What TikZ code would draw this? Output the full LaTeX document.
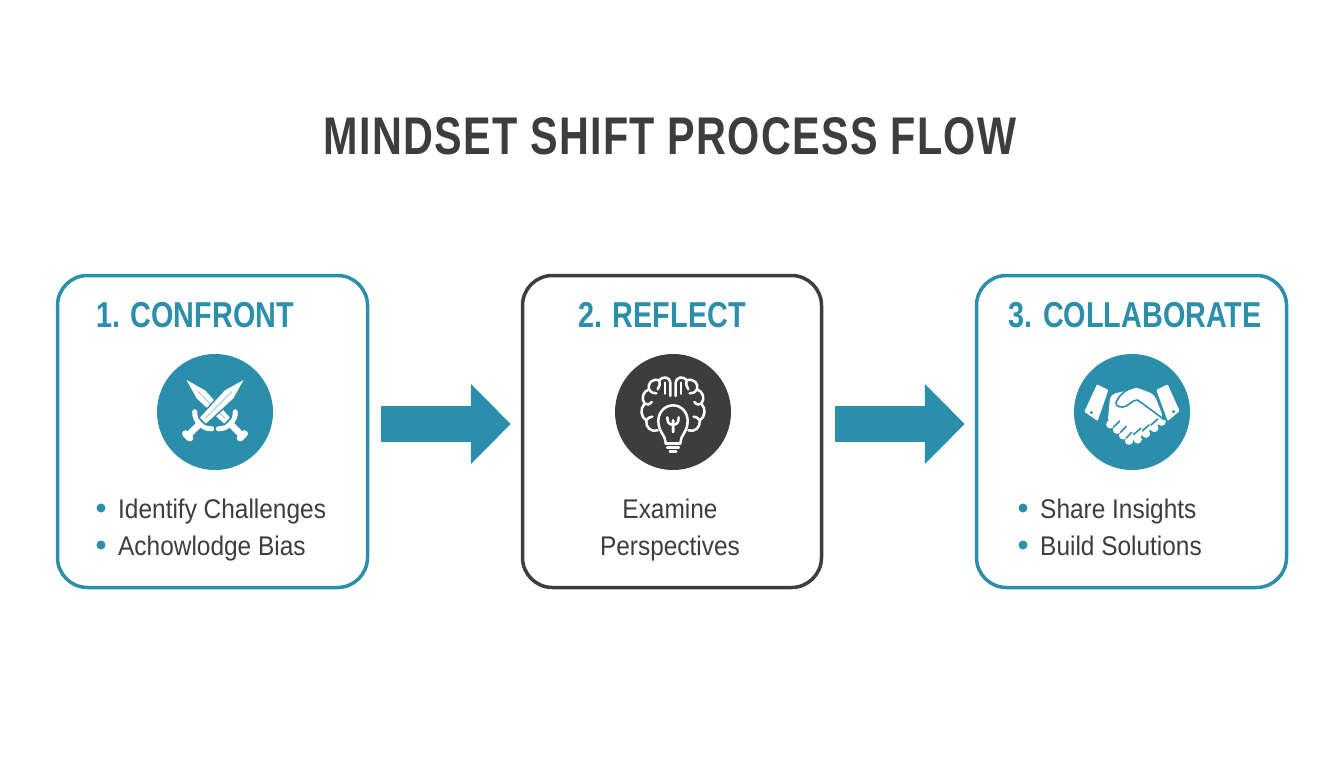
\documentclass[tikz,border=0pt]{standalone}
\usepackage{fontspec}
\usetikzlibrary{arrows.meta}
\newfontfamily\condfont[FakeStretch=0.8]{Liberation Sans}
\newfontfamily\titlefont[FakeStretch=0.78,LetterSpace=2.5]{Liberation Sans}
\newfontfamily\bodyfont[FakeStretch=0.905]{Liberation Sans}
\definecolor{tealmain}{HTML}{2B8EAA}
\definecolor{darkmain}{HTML}{3D3D3D}
\tikzset{
  stepbox/.style={draw=#1, line width=3.5pt, rounded corners=30pt, minimum height=312pt, fill=white},
  heading/.style={font=\condfont\bfseries\fontsize{36}{36}\selectfont, text=tealmain, anchor=base},
  bodytext/.style={font=\bodyfont\fontsize{27}{27}\selectfont, text=darkmain, anchor=base west, inner sep=0pt},
  midtext/.style={bodytext, anchor=base},
  dotmark/.style={circle, fill=tealmain, inner sep=0pt, minimum size=9pt},
  iconbg/.style={circle, fill=#1, inner sep=0pt, minimum size=116pt},
  blockarrow/.style={-{Triangle[length=40pt,width=78pt]}, line width=36pt, draw=tealmain, shorten <=12pt, shorten >=10pt},
  brainline/.style={draw=white, line width=2.5pt, line cap=round, line join=round},
  sword/.pic={
    \draw[white, line width=7pt, line cap=round] (-116,-9) -- (-116,9);
    \fill[white] (-114,-10) rectangle (-62,10);
    \draw[white, line width=5pt, line cap=round] (-50,-36) .. controls (-70,-20) and (-70,20) .. (-50,36);
    \filldraw[fill=white, draw=tealmain, line width=1.4pt, line join=miter] (-54,-15) -- (60,-20) -- (130,0) -- (60,20) -- (-54,15) -- cycle;
    \draw[tealmain!70, line width=.5pt] (-40,0) -- (72,0);
  }
}
\begin{document}
\begin{tikzpicture}[x=1pt, y=-1pt]
  \useasboundingbox (0,0) rectangle (1344,768);
  \node [font=\titlefont\bfseries\fontsize{53}{53}\selectfont, text=darkmain, anchor=base] (title) at (670,154) {MINDSET SHIFT PROCESS FLOW};
  % boxes
  \node [stepbox=tealmain, minimum width=310pt] (confront) at (212.5,431.5) {};
  \node [stepbox=darkmain, minimum width=299pt] (reflect) at (672,431.5) {};
  \node [stepbox=tealmain, minimum width=310pt] (collab) at (1131.5,431.5) {};
  \node [heading] (confronthead) at (195,327) {1. CONFRONT};
  \node [heading] (reflecthead) at (662,327) {2. REFLECT};
  \node [heading] (collabhead) at (1135,327) {3. COLLABORATE};
  % arrows
  \coordinate (arrowline) at (0,424);
  \draw[blockarrow] (confront.east |- arrowline) -- (reflect.west |- arrowline);
  \draw[blockarrow] (reflect.east |- arrowline) -- (collab.west |- arrowline);
  % icon circles
  \node [iconbg=tealmain] (swordicon) at (215,412) {};
  \node [iconbg=darkmain] (brainicon) at (673,412) {};
  \node [iconbg=tealmain] (handicon) at (1132,412) {};
  % swords
  \pic [rotate=135, scale=1/3] (swordone) at (215,408.5) {sword};
  \pic [rotate=45, scale=1/3] (swordtwo) at (215,408.5) {sword};
  % brain and bulb
  \begin{scope}[shift={(673,412)}, scale=1/3]
    \foreach \s in {1,-1} {
      \begin{scope}[xscale=\s]
        \draw[brainline] (8,-48) -- (8,-88) .. controls (8,-104) and (30,-110) .. (42,-95) .. controls (62,-102) and (78,-85) .. (72,-68) .. controls (90,-62) and (97,-40) .. (85,-25) .. controls (100,-10) and (97,15) .. (80,25) .. controls (84,45) and (65,62) .. (46,55);
        \draw[brainline] (24,-88) -- (24,-55);
        \draw[brainline] (42,-95) .. controls (38,-85) and (40,-75) .. (46,-68);
        \draw[brainline] (72,-68) .. controls (65,-58) and (58,-55) .. (50,-56);
        \draw[brainline] (85,-25) .. controls (78,-20) and (70,-22) .. (64,-30);
        \draw[brainline] (80,25) .. controls (74,18) and (70,14) .. (62,14);
        \draw[brainline] (22,92) .. controls (22,70) and (44,60) .. (44,27) .. controls (44,0) and (24,-20) .. (0,-20);
        \draw[brainline] (0,60) -- (0,25) (0,38) .. controls (12,38) and (17,32) .. (17,16);
        \draw[brainline] (-22,95) -- (22,95) (-17,107) -- (17,107) (-9,118) -- (9,118);
      \end{scope}
    }
  \end{scope}
  % handshake
  \begin{scope}[shift={(1067,345)}, scale=1/3]
    \fill[white, rounded corners=1pt] (90,118) -- (124,135) -- (92,228) -- (52,200) -- cycle;
    \fill[white, rounded corners=1pt] (302,118) -- (268,135) -- (302,228) -- (338,198) -- cycle;
    \fill[tealmain] (73,203) circle (5) (320,200) circle (5);
    \fill[white, rounded corners=5pt] (130,148) -- (168,140) -- (205,126) -- (262,148) -- (288,215) -- (280,235) -- (205,285) -- (185,285) -- (122,232) -- cycle;
    \foreach \px/\py in {130/238, 150/254, 168/271, 186/287, 284/230, 262/249, 237/266, 212/283} {
      \fill[white] (\px,\py) circle (12.5);
    }
    \draw[tealmain, line width=1.6pt, line cap=round, line join=round] (200,128) .. controls (180,132) and (160,145) .. (147,172) .. controls (143,185) and (165,190) .. (178,183) .. controls (190,175) and (200,165) .. (212,165) -- (292,224);
    \draw[tealmain, line width=1.6pt, line cap=round] (140,246) -- (158,228) (160,262) -- (178,244) (178,279) -- (194,262) (200,268) -- (222,250) (226,258) -- (246,240) (252,240) -- (272,222);
  \end{scope}
  % item lists
  \node [dotmark] (dotone) at (101,508) {};
  \node [bodytext] (identify) at (118,518) {Identify Challenges};
  \node [dotmark] (dottwo) at (101,545) {};
  \node [bodytext] (acknow) at (118,555) {Achowlodge Bias};
  \node [midtext] (examine) at (670,518) {Examine};
  \node [midtext] (perspect) at (670,555) {Perspectives};
  \node [dotmark] (dotthree) at (1023,508) {};
  \node [bodytext] (share) at (1040,518) {Share Insights};
  \node [dotmark] (dotfour) at (1023,545) {};
  \node [bodytext] (build) at (1040,555) {Build Solutions};
\end{tikzpicture}
\end{document}
